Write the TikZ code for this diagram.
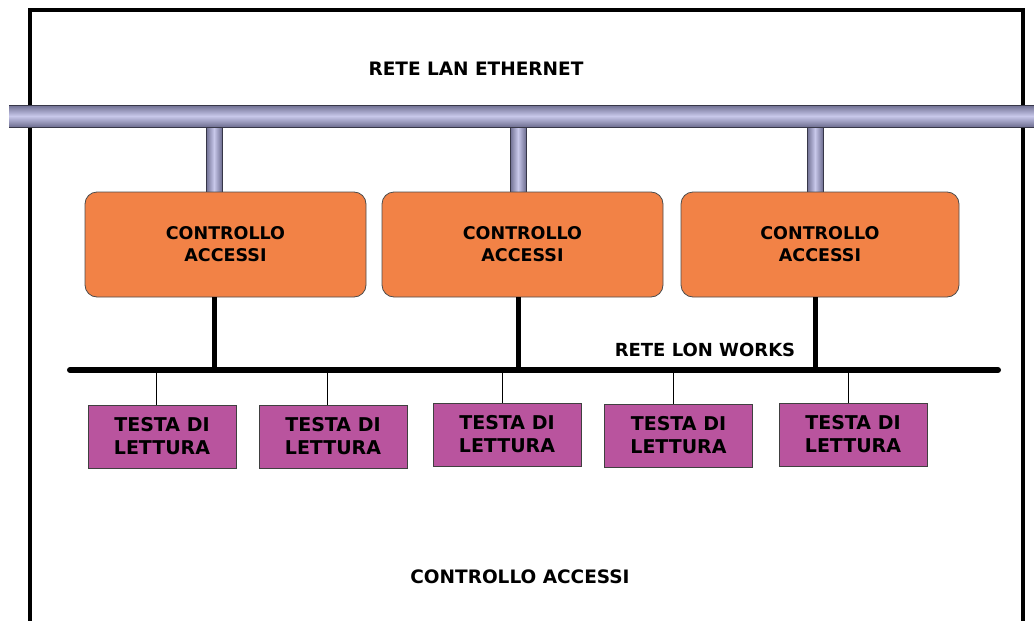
\documentclass[tikz,border=0pt]{standalone}
\usepackage{fontspec}
\setmainfont{DejaVu Sans}
\definecolor{ctrlfill}{RGB}{242,130,70}
\definecolor{headfill}{RGB}{185,84,158}
\definecolor{lavlight}{RGB}{200,200,234}
\definecolor{lavmid}{RGB}{170,170,210}
\definecolor{lavdark}{RGB}{110,110,145}
\begin{document}
\begin{tikzpicture}[x=1pt,y=-1pt,
  ctrlbox/.style={draw=black!70, line width=0.8pt, fill=ctrlfill, rounded corners=12pt,
    minimum width=281pt, minimum height=105pt, align=center, inner sep=0pt,
    font=\fontsize{17.5}{22}\selectfont\bfseries},
  headbox/.style={draw=black!75, line width=1pt, fill=headfill, minimum width=148pt,
    minimum height=63pt, align=center, inner sep=0pt,
    font=\fontsize{19}{23}\selectfont\bfseries},
  label/.style={font=\fontsize{18.5}{22}\selectfont\bfseries},
  lonline/.style={line width=6pt},
  thinline/.style={line width=1pt},
  frame/.style={line width=4pt}]
\useasboundingbox (0,0) rectangle (1034,621);
% outer frame
\draw[frame] (30,623) -- (30,10) -- (1023,10) -- (1023,623);
% drops from ethernet bar
\foreach \x in {214,518,815}{
  \shade[left color=lavdark, right color=lavdark, middle color=lavlight] (\x-8,124) rectangle (\x+8,192);
  \draw[lavdark!50!black, line width=0.8pt] (\x-8,124) -- (\x-8,192) (\x+8,124) -- (\x+8,192);
}
% ethernet bar
\shade[top color=lavdark, bottom color=lavdark, middle color=lavlight] (9,105) rectangle (1036,127);
\draw[lavdark!50!black, line width=0.8pt] (9,105) -- (1036,105) (9,127) -- (1036,127);
\node[label] (lan) at (476,69) {RETE LAN ETHERNET};
% controllers
\node[ctrlbox] (c1) at (225.5,244.5) {CONTROLLO\\ACCESSI};
\node[ctrlbox] (c2) at (522.5,244.5) {CONTROLLO\\ACCESSI};
\node[ctrlbox, minimum width=278pt] (c3) at (820,244.5) {CONTROLLO\\ACCESSI};
% LON bus
\coordinate (lonL) at (70,370);
\coordinate (lonR) at (998,370);
\draw[lonline, line cap=round] (lonL) -- (lonR);
\foreach \n/\x in {c1/214,c2/518,c3/815}{
  \coordinate (t\n) at (\x,370);
  \draw[line width=5pt] (\n.south -| t\n) -- (t\n);
}
\node[label, font=\fontsize{18}{22}\selectfont\bfseries] (lon) at (705,350) {RETE LON WORKS};
% reading heads
\node[headbox] (h1) at (162,436.5) {TESTA DI\\LETTURA};
\node[headbox] (h2) at (333,436.5) {TESTA DI\\LETTURA};
\node[headbox] (h3) at (507,434.5) {TESTA DI\\LETTURA};
\node[headbox] (h4) at (678.5,435.5) {TESTA DI\\LETTURA};
\node[headbox] (h5) at (853,434.5) {TESTA DI\\LETTURA};
\foreach \n/\x in {h1/156,h2/327,h3/502,h4/673,h5/848}{
  \coordinate (b\n) at (\x,370);
  \draw[thinline] (b\n) -- (\n.north -| b\n);
}
\node[label] (title) at (520,577) {CONTROLLO ACCESSI};
\end{tikzpicture}
\end{document}
